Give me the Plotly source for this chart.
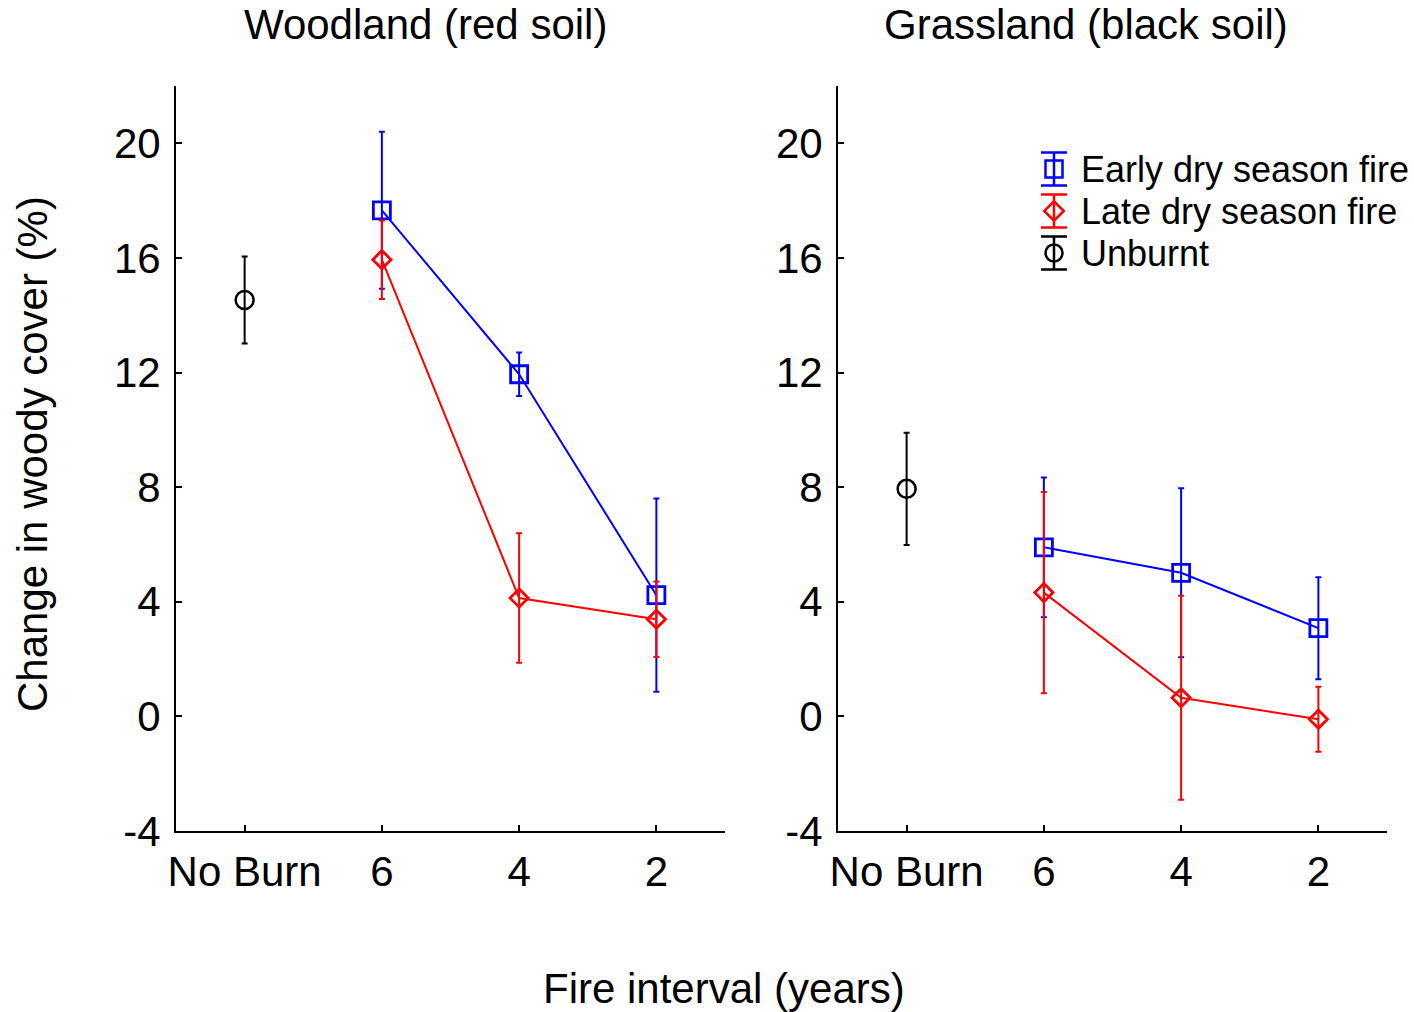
import plotly.graph_objects as go

# ---- data ----
categories = ["No Burn", "6", "4", "2"]
fire_intervals = ["6", "4", "2"]
unburnt_cat = ["No Burn"]

wood_early = [17.66, 11.94, 4.23]
wood_early_err = [2.74, 0.76, 3.37]
wood_late = [15.94, 4.13, 3.39]
wood_late_err = [1.37, 2.26, 1.32]
wood_unburnt = [14.53]
wood_unburnt_err = [1.52]

grass_early = [5.90, 5.01, 3.08]
grass_early_err = [2.44, 2.95, 1.78]
grass_late = [4.32, 0.65, -0.10]
grass_late_err = [3.51, 3.56, 1.13]
grass_unburnt = [7.94]
grass_unburnt_err = [1.96]

panel_titles = ["Woodland (red soil)", "Grassland (black soil)"]
legend_labels = ["Early dry season fire", "Late dry season fire", "Unburnt"]
y_ticks = [-4, 0, 4, 8, 12, 16, 20]
y_ticktext = ["-4", "0", "4", "8", "12", "16", "20"]

BLUE = "#0000FF"
RED = "#FF0000"
BLACK = "#000000"
FONT = "Arial, Liberation Sans, sans-serif"

W, H = 1414, 1012


def px_x(p):
    return p / W


def px_y(p):
    return (H - p) / H


fig = go.Figure()


def add_panel(xa, ya, early, early_err, late, late_err, unb, unb_err):
    fig.add_trace(go.Scatter(
        x=fire_intervals, y=early, mode="lines+markers", xaxis=xa, yaxis=ya,
        line=dict(color=BLUE, width=2),
        marker=dict(symbol="square-open", size=17, color=BLUE, line=dict(width=2.8, color=BLUE)),
        error_y=dict(type="data", array=early_err, color=BLUE, thickness=2, width=3),
        showlegend=False))
    fig.add_trace(go.Scatter(
        x=fire_intervals, y=late, mode="lines+markers", xaxis=xa, yaxis=ya,
        line=dict(color=RED, width=2),
        marker=dict(symbol="diamond-open", size=14, color=RED, line=dict(width=2.8, color=RED)),
        error_y=dict(type="data", array=late_err, color=RED, thickness=2, width=3),
        showlegend=False))
    fig.add_trace(go.Scatter(
        x=unburnt_cat, y=unb, mode="markers", xaxis=xa, yaxis=ya,
        marker=dict(symbol="circle-open", size=18, color=BLACK, line=dict(width=2.5, color=BLACK)),
        error_y=dict(type="data", array=unb_err, color=BLACK, thickness=2, width=3),
        showlegend=False))


add_panel("x", "y", wood_early, wood_early_err, wood_late, wood_late_err, wood_unburnt, wood_unburnt_err)
add_panel("x2", "y2", grass_early, grass_early_err, grass_late, grass_late_err, grass_unburnt, grass_unburnt_err)

# ---- custom legend (icons with error bars) ----
leg_rows = [0, 1, 2]
leg_err = [0.39, 0.39, 0.39]
leg_colors = [BLUE, RED, BLACK]
leg_symbols = ["square-open", "diamond-open", "circle-open"]
leg_sizes = [17, 15, 17]
for r, c, s, sz, e in zip(leg_rows, leg_colors, leg_symbols, leg_sizes, leg_err):
    fig.add_trace(go.Scatter(
        x=[0], y=[r], mode="markers", xaxis="x3", yaxis="y3",
        marker=dict(symbol=s, size=sz, color=c, line=dict(width=2.5, color=c)),
        error_y=dict(type="data", array=[e], color=c, thickness=2.5, width=13),
        showlegend=False, hoverinfo="skip"))

x_common = dict(
    type="category", categoryorder="array", categoryarray=categories,
    range=[-0.5, 3.5], showline=True, linewidth=2, linecolor=BLACK,
    ticks="inside", ticklen=6, tickwidth=2, tickcolor=BLACK,
    showgrid=False, zeroline=False, automargin=False, ticklabelstandoff=3,
    tickfont=dict(family=FONT, size=42, color=BLACK),
)
y_common = dict(
    range=[-4, 22], tickvals=y_ticks, ticktext=y_ticktext,
    showline=True, linewidth=2, linecolor=BLACK,
    ticks="inside", ticklen=6, tickwidth=2, tickcolor=BLACK,
    showgrid=False, zeroline=False, automargin=False, ticklabelstandoff=5,
    tickfont=dict(family=FONT, size=42, color=BLACK),
)

y_dom = [px_y(831), px_y(86)]

fig.update_layout(
    width=W, height=H,
    margin=dict(l=0, r=0, t=0, b=0),
    paper_bgcolor="white", plot_bgcolor="white",
    font=dict(family=FONT, size=36, color=BLACK),
    xaxis=dict(domain=[px_x(176), px_x(725)], anchor="y", **x_common),
    yaxis=dict(domain=y_dom, anchor="x", **y_common),
    xaxis2=dict(domain=[px_x(838), px_x(1387)], anchor="y2", **x_common),
    yaxis2=dict(domain=y_dom, anchor="x2", **y_common),
    xaxis3=dict(domain=[px_x(1039), px_x(1069)], anchor="y3", range=[-1, 1], visible=False,
                fixedrange=True, automargin=False),
    yaxis3=dict(domain=[px_y(274), px_y(148)], anchor="x3", range=[2.5, -0.5], visible=False,
                fixedrange=True, automargin=False),
    showlegend=False,
)

annotations = [
    dict(text=panel_titles[0], x=px_x(425), y=px_y(25), xref="paper", yref="paper",
         xanchor="center", yanchor="middle", showarrow=False, font=dict(family=FONT, size=42, color=BLACK)),
    dict(text=panel_titles[1], x=px_x(1086), y=px_y(25), xref="paper", yref="paper",
         xanchor="center", yanchor="middle", showarrow=False, font=dict(family=FONT, size=42, color=BLACK)),
    dict(text="Change in woody cover (%)", x=px_x(33), y=px_y(454), xref="paper", yref="paper",
         xanchor="center", yanchor="middle", textangle=-90, showarrow=False,
         font=dict(family=FONT, size=42, color=BLACK)),
    dict(text="Fire interval (years)", x=px_x(724), y=px_y(988), xref="paper", yref="paper",
         xanchor="center", yanchor="middle", showarrow=False, font=dict(family=FONT, size=42, color=BLACK)),
]
for r, lab in zip(leg_rows, legend_labels):
    annotations.append(dict(text=lab, x=px_x(1079), y=r, xref="paper", yref="y3",
                            xanchor="left", yanchor="middle", showarrow=False,
                            font=dict(family=FONT, size=36, color=BLACK)))
fig.update_layout(annotations=annotations)

fig.write_html("out.html")
